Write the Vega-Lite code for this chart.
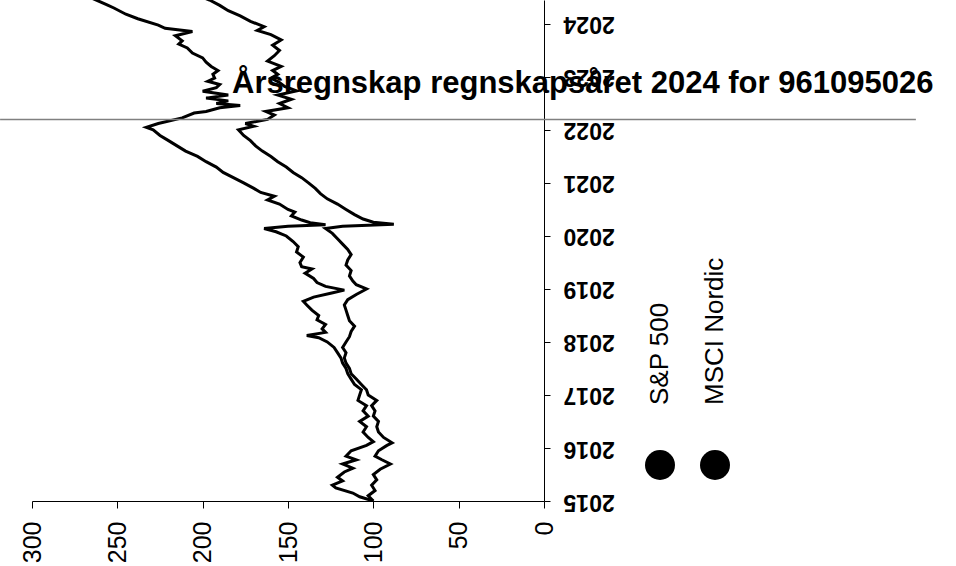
{
  "$schema": "https://vega.github.io/schema/vega-lite/v6.json",
  "width": 512,
  "height": 501,
  "autosize": {"type": "none"},
  "padding": {"left": 32, "top": 0, "right": 412, "bottom": 65},
  "background": "white",
  "title": {
    "text": "Årsregnskap regnskapsåret 2024 for 961095026",
    "font": "Liberation Sans",
    "fontSize": 31,
    "fontWeight": "bold",
    "color": "black",
    "anchor": "start",
    "frame": "group",
    "orient": "top",
    "offset": 0,
    "dx": 200,
    "dy": 124,
    "baseline": "alphabetic"
  },
  "config": {
    "view": {"stroke": null},
    "font": "Liberation Sans",
    "axis": {"domainColor": "black", "tickColor": "black", "labelColor": "black", "grid": false, "title": null, "labelFont": "Liberation Sans"}
  },
  "datasets": {
    "series": [
      {"series": "S&P 500", "date": "2015-01-01", "value": 100},
      {"series": "S&P 500", "date": "2015-01-30", "value": 108},
      {"series": "S&P 500", "date": "2015-02-25", "value": 112},
      {"series": "S&P 500", "date": "2015-04-01", "value": 122},
      {"series": "S&P 500", "date": "2015-04-20", "value": 124},
      {"series": "S&P 500", "date": "2015-05-19", "value": 118},
      {"series": "S&P 500", "date": "2015-06-14", "value": 121},
      {"series": "S&P 500", "date": "2015-07-20", "value": 117},
      {"series": "S&P 500", "date": "2015-08-15", "value": 112},
      {"series": "S&P 500", "date": "2015-09-13", "value": 118},
      {"series": "S&P 500", "date": "2015-10-12", "value": 110},
      {"series": "S&P 500", "date": "2015-11-06", "value": 116},
      {"series": "S&P 500", "date": "2015-12-13", "value": 113},
      {"series": "S&P 500", "date": "2016-01-19", "value": 104},
      {"series": "S&P 500", "date": "2016-02-14", "value": 100},
      {"series": "S&P 500", "date": "2016-03-14", "value": 103},
      {"series": "S&P 500", "date": "2016-04-20", "value": 106},
      {"series": "S&P 500", "date": "2016-05-27", "value": 104},
      {"series": "S&P 500", "date": "2016-07-02", "value": 108},
      {"series": "S&P 500", "date": "2016-08-08", "value": 103},
      {"series": "S&P 500", "date": "2016-09-13", "value": 106},
      {"series": "S&P 500", "date": "2016-10-19", "value": 104},
      {"series": "S&P 500", "date": "2016-11-24", "value": 109},
      {"series": "S&P 500", "date": "2017-01-01", "value": 108},
      {"series": "S&P 500", "date": "2017-02-06", "value": 107},
      {"series": "S&P 500", "date": "2017-03-14", "value": 111},
      {"series": "S&P 500", "date": "2017-04-20", "value": 113},
      {"series": "S&P 500", "date": "2017-05-27", "value": 115},
      {"series": "S&P 500", "date": "2017-07-02", "value": 116},
      {"series": "S&P 500", "date": "2017-08-08", "value": 118},
      {"series": "S&P 500", "date": "2017-09-13", "value": 119},
      {"series": "S&P 500", "date": "2017-10-19", "value": 121},
      {"series": "S&P 500", "date": "2017-11-24", "value": 123},
      {"series": "S&P 500", "date": "2018-01-01", "value": 127},
      {"series": "S&P 500", "date": "2018-01-30", "value": 132},
      {"series": "S&P 500", "date": "2018-02-14", "value": 139},
      {"series": "S&P 500", "date": "2018-03-08", "value": 128},
      {"series": "S&P 500", "date": "2018-04-01", "value": 130},
      {"series": "S&P 500", "date": "2018-05-01", "value": 128},
      {"series": "S&P 500", "date": "2018-06-03", "value": 133},
      {"series": "S&P 500", "date": "2018-07-02", "value": 132},
      {"series": "S&P 500", "date": "2018-08-08", "value": 136},
      {"series": "S&P 500", "date": "2018-09-13", "value": 139},
      {"series": "S&P 500", "date": "2018-10-08", "value": 141},
      {"series": "S&P 500", "date": "2018-11-06", "value": 135},
      {"series": "S&P 500", "date": "2018-12-02", "value": 125},
      {"series": "S&P 500", "date": "2018-12-24", "value": 117},
      {"series": "S&P 500", "date": "2019-01-19", "value": 128},
      {"series": "S&P 500", "date": "2019-02-14", "value": 133},
      {"series": "S&P 500", "date": "2019-03-14", "value": 135},
      {"series": "S&P 500", "date": "2019-04-20", "value": 140},
      {"series": "S&P 500", "date": "2019-05-19", "value": 136},
      {"series": "S&P 500", "date": "2019-06-03", "value": 142},
      {"series": "S&P 500", "date": "2019-07-02", "value": 143},
      {"series": "S&P 500", "date": "2019-08-08", "value": 141},
      {"series": "S&P 500", "date": "2019-09-13", "value": 145},
      {"series": "S&P 500", "date": "2019-10-19", "value": 144},
      {"series": "S&P 500", "date": "2019-11-24", "value": 147},
      {"series": "S&P 500", "date": "2020-01-01", "value": 151},
      {"series": "S&P 500", "date": "2020-01-30", "value": 157},
      {"series": "S&P 500", "date": "2020-02-21", "value": 164},
      {"series": "S&P 500", "date": "2020-03-08", "value": 150},
      {"series": "S&P 500", "date": "2020-03-18", "value": 128},
      {"series": "S&P 500", "date": "2020-04-01", "value": 137},
      {"series": "S&P 500", "date": "2020-04-20", "value": 142},
      {"series": "S&P 500", "date": "2020-05-19", "value": 148},
      {"series": "S&P 500", "date": "2020-06-14", "value": 146},
      {"series": "S&P 500", "date": "2020-07-02", "value": 150},
      {"series": "S&P 500", "date": "2020-08-08", "value": 155},
      {"series": "S&P 500", "date": "2020-09-06", "value": 162},
      {"series": "S&P 500", "date": "2020-10-01", "value": 158},
      {"series": "S&P 500", "date": "2020-10-27", "value": 166},
      {"series": "S&P 500", "date": "2020-11-24", "value": 170},
      {"series": "S&P 500", "date": "2021-01-01", "value": 176},
      {"series": "S&P 500", "date": "2021-02-06", "value": 182},
      {"series": "S&P 500", "date": "2021-03-14", "value": 188},
      {"series": "S&P 500", "date": "2021-04-20", "value": 192},
      {"series": "S&P 500", "date": "2021-05-27", "value": 198},
      {"series": "S&P 500", "date": "2021-07-02", "value": 203},
      {"series": "S&P 500", "date": "2021-08-08", "value": 210},
      {"series": "S&P 500", "date": "2021-09-13", "value": 215},
      {"series": "S&P 500", "date": "2021-10-19", "value": 220},
      {"series": "S&P 500", "date": "2021-11-24", "value": 225},
      {"series": "S&P 500", "date": "2022-01-01", "value": 229},
      {"series": "S&P 500", "date": "2022-01-19", "value": 233},
      {"series": "S&P 500", "date": "2022-02-14", "value": 226},
      {"series": "S&P 500", "date": "2022-03-25", "value": 212},
      {"series": "S&P 500", "date": "2022-04-27", "value": 205},
      {"series": "S&P 500", "date": "2022-05-08", "value": 198},
      {"series": "S&P 500", "date": "2022-06-03", "value": 190},
      {"series": "S&P 500", "date": "2022-06-18", "value": 178},
      {"series": "S&P 500", "date": "2022-07-02", "value": 192},
      {"series": "S&P 500", "date": "2022-07-20", "value": 185},
      {"series": "S&P 500", "date": "2022-08-08", "value": 198},
      {"series": "S&P 500", "date": "2022-08-30", "value": 185},
      {"series": "S&P 500", "date": "2022-09-24", "value": 200},
      {"series": "S&P 500", "date": "2022-10-19", "value": 192},
      {"series": "S&P 500", "date": "2022-11-10", "value": 190},
      {"series": "S&P 500", "date": "2022-12-02", "value": 197},
      {"series": "S&P 500", "date": "2022-12-24", "value": 193},
      {"series": "S&P 500", "date": "2023-01-19", "value": 194},
      {"series": "S&P 500", "date": "2023-02-14", "value": 191},
      {"series": "S&P 500", "date": "2023-03-14", "value": 195},
      {"series": "S&P 500", "date": "2023-04-13", "value": 198},
      {"series": "S&P 500", "date": "2023-05-12", "value": 200},
      {"series": "S&P 500", "date": "2023-06-14", "value": 206},
      {"series": "S&P 500", "date": "2023-07-20", "value": 209},
      {"series": "S&P 500", "date": "2023-08-15", "value": 214},
      {"series": "S&P 500", "date": "2023-09-06", "value": 212},
      {"series": "S&P 500", "date": "2023-10-12", "value": 216},
      {"series": "S&P 500", "date": "2023-11-10", "value": 206},
      {"series": "S&P 500", "date": "2023-12-02", "value": 222},
      {"series": "S&P 500", "date": "2023-12-24", "value": 226},
      {"series": "S&P 500", "date": "2024-02-06", "value": 238},
      {"series": "S&P 500", "date": "2024-03-08", "value": 245},
      {"series": "S&P 500", "date": "2024-04-20", "value": 252},
      {"series": "S&P 500", "date": "2024-05-12", "value": 256},
      {"series": "S&P 500", "date": "2024-07-02", "value": 266},
      {"series": "MSCI Nordic", "date": "2015-01-01", "value": 100},
      {"series": "MSCI Nordic", "date": "2015-02-06", "value": 103},
      {"series": "MSCI Nordic", "date": "2015-03-14", "value": 99},
      {"series": "MSCI Nordic", "date": "2015-04-20", "value": 101},
      {"series": "MSCI Nordic", "date": "2015-05-27", "value": 98},
      {"series": "MSCI Nordic", "date": "2015-07-02", "value": 100},
      {"series": "MSCI Nordic", "date": "2015-08-08", "value": 96},
      {"series": "MSCI Nordic", "date": "2015-09-13", "value": 90},
      {"series": "MSCI Nordic", "date": "2015-10-12", "value": 95},
      {"series": "MSCI Nordic", "date": "2015-11-06", "value": 99},
      {"series": "MSCI Nordic", "date": "2015-12-13", "value": 97},
      {"series": "MSCI Nordic", "date": "2016-01-19", "value": 92},
      {"series": "MSCI Nordic", "date": "2016-02-06", "value": 89},
      {"series": "MSCI Nordic", "date": "2016-03-14", "value": 94},
      {"series": "MSCI Nordic", "date": "2016-04-20", "value": 97},
      {"series": "MSCI Nordic", "date": "2016-05-27", "value": 98},
      {"series": "MSCI Nordic", "date": "2016-07-02", "value": 97},
      {"series": "MSCI Nordic", "date": "2016-08-08", "value": 100},
      {"series": "MSCI Nordic", "date": "2016-09-13", "value": 99},
      {"series": "MSCI Nordic", "date": "2016-10-19", "value": 101},
      {"series": "MSCI Nordic", "date": "2016-11-24", "value": 98},
      {"series": "MSCI Nordic", "date": "2017-01-01", "value": 103},
      {"series": "MSCI Nordic", "date": "2017-02-06", "value": 104},
      {"series": "MSCI Nordic", "date": "2017-03-14", "value": 107},
      {"series": "MSCI Nordic", "date": "2017-04-20", "value": 110},
      {"series": "MSCI Nordic", "date": "2017-05-27", "value": 113},
      {"series": "MSCI Nordic", "date": "2017-07-02", "value": 114},
      {"series": "MSCI Nordic", "date": "2017-08-08", "value": 116},
      {"series": "MSCI Nordic", "date": "2017-09-13", "value": 117},
      {"series": "MSCI Nordic", "date": "2017-10-19", "value": 116},
      {"series": "MSCI Nordic", "date": "2017-11-24", "value": 118},
      {"series": "MSCI Nordic", "date": "2018-01-01", "value": 116},
      {"series": "MSCI Nordic", "date": "2018-02-06", "value": 114},
      {"series": "MSCI Nordic", "date": "2018-03-14", "value": 113},
      {"series": "MSCI Nordic", "date": "2018-04-20", "value": 111},
      {"series": "MSCI Nordic", "date": "2018-05-27", "value": 114},
      {"series": "MSCI Nordic", "date": "2018-07-02", "value": 115},
      {"series": "MSCI Nordic", "date": "2018-08-08", "value": 116},
      {"series": "MSCI Nordic", "date": "2018-09-13", "value": 117},
      {"series": "MSCI Nordic", "date": "2018-10-19", "value": 115},
      {"series": "MSCI Nordic", "date": "2018-11-24", "value": 110},
      {"series": "MSCI Nordic", "date": "2019-01-01", "value": 104},
      {"series": "MSCI Nordic", "date": "2019-01-30", "value": 110},
      {"series": "MSCI Nordic", "date": "2019-02-25", "value": 112},
      {"series": "MSCI Nordic", "date": "2019-04-01", "value": 114},
      {"series": "MSCI Nordic", "date": "2019-05-08", "value": 113},
      {"series": "MSCI Nordic", "date": "2019-06-14", "value": 116},
      {"series": "MSCI Nordic", "date": "2019-07-20", "value": 115},
      {"series": "MSCI Nordic", "date": "2019-08-26", "value": 113},
      {"series": "MSCI Nordic", "date": "2019-10-01", "value": 115},
      {"series": "MSCI Nordic", "date": "2019-11-06", "value": 118},
      {"series": "MSCI Nordic", "date": "2019-12-13", "value": 121},
      {"series": "MSCI Nordic", "date": "2020-01-19", "value": 124},
      {"series": "MSCI Nordic", "date": "2020-02-21", "value": 128},
      {"series": "MSCI Nordic", "date": "2020-03-08", "value": 118},
      {"series": "MSCI Nordic", "date": "2020-03-22", "value": 88},
      {"series": "MSCI Nordic", "date": "2020-04-05", "value": 100},
      {"series": "MSCI Nordic", "date": "2020-04-27", "value": 106},
      {"series": "MSCI Nordic", "date": "2020-05-27", "value": 111},
      {"series": "MSCI Nordic", "date": "2020-07-02", "value": 116},
      {"series": "MSCI Nordic", "date": "2020-08-08", "value": 121},
      {"series": "MSCI Nordic", "date": "2020-09-13", "value": 127},
      {"series": "MSCI Nordic", "date": "2020-10-19", "value": 131},
      {"series": "MSCI Nordic", "date": "2020-11-24", "value": 134},
      {"series": "MSCI Nordic", "date": "2021-01-01", "value": 138},
      {"series": "MSCI Nordic", "date": "2021-02-06", "value": 142},
      {"series": "MSCI Nordic", "date": "2021-03-14", "value": 147},
      {"series": "MSCI Nordic", "date": "2021-04-20", "value": 151},
      {"series": "MSCI Nordic", "date": "2021-05-27", "value": 156},
      {"series": "MSCI Nordic", "date": "2021-07-02", "value": 160},
      {"series": "MSCI Nordic", "date": "2021-08-08", "value": 165},
      {"series": "MSCI Nordic", "date": "2021-09-13", "value": 169},
      {"series": "MSCI Nordic", "date": "2021-10-19", "value": 172},
      {"series": "MSCI Nordic", "date": "2021-11-24", "value": 176},
      {"series": "MSCI Nordic", "date": "2022-01-01", "value": 179},
      {"series": "MSCI Nordic", "date": "2022-01-26", "value": 170},
      {"series": "MSCI Nordic", "date": "2022-02-14", "value": 175},
      {"series": "MSCI Nordic", "date": "2022-03-14", "value": 162},
      {"series": "MSCI Nordic", "date": "2022-04-13", "value": 158},
      {"series": "MSCI Nordic", "date": "2022-05-08", "value": 163},
      {"series": "MSCI Nordic", "date": "2022-06-03", "value": 150},
      {"series": "MSCI Nordic", "date": "2022-07-02", "value": 155},
      {"series": "MSCI Nordic", "date": "2022-07-31", "value": 148},
      {"series": "MSCI Nordic", "date": "2022-08-30", "value": 156},
      {"series": "MSCI Nordic", "date": "2022-09-27", "value": 145},
      {"series": "MSCI Nordic", "date": "2022-10-27", "value": 152},
      {"series": "MSCI Nordic", "date": "2022-11-24", "value": 155},
      {"series": "MSCI Nordic", "date": "2022-12-24", "value": 160},
      {"series": "MSCI Nordic", "date": "2023-01-19", "value": 156},
      {"series": "MSCI Nordic", "date": "2023-02-14", "value": 159},
      {"series": "MSCI Nordic", "date": "2023-03-14", "value": 154},
      {"series": "MSCI Nordic", "date": "2023-04-20", "value": 162},
      {"series": "MSCI Nordic", "date": "2023-05-27", "value": 158},
      {"series": "MSCI Nordic", "date": "2023-07-02", "value": 155},
      {"series": "MSCI Nordic", "date": "2023-08-08", "value": 159},
      {"series": "MSCI Nordic", "date": "2023-09-13", "value": 154},
      {"series": "MSCI Nordic", "date": "2023-10-19", "value": 160},
      {"series": "MSCI Nordic", "date": "2023-11-17", "value": 168},
      {"series": "MSCI Nordic", "date": "2023-12-13", "value": 164},
      {"series": "MSCI Nordic", "date": "2024-01-19", "value": 172},
      {"series": "MSCI Nordic", "date": "2024-02-25", "value": 178},
      {"series": "MSCI Nordic", "date": "2024-04-01", "value": 185},
      {"series": "MSCI Nordic", "date": "2024-05-08", "value": 190},
      {"series": "MSCI Nordic", "date": "2024-06-14", "value": 196},
      {"series": "MSCI Nordic", "date": "2024-07-02", "value": 200}
    ]
  },
  "layer": [
    {
      "data": {"name": "series"},
      "mark": {"type": "line", "strokeWidth": 3, "clip": true, "strokeJoin": "miter"},
      "encoding": {
        "y": {
          "field": "date",
          "type": "temporal",
          "scale": {"domain": ["2015-01-01", "2024-06-14"]},
          "axis": {
            "orient": "right",
            "format": "%Y",
            "tickCount": {"interval": "year", "step": 1},
            "labelAngle": 180,
            "labelAlign": "right",
            "labelBaseline": "middle",
            "labelFontSize": 23,
            "labelFontWeight": "bold",
            "labelPadding": 13,
            "tickSize": 6,
            "labelOverlap": false,
            "labelFlush": false,
            "labelBound": false
          }
        },
        "x": {
          "field": "value",
          "type": "quantitative",
          "scale": {"domain": [0, 300], "reverse": true, "nice": false, "zero": false},
          "axis": {
            "values": [0, 50, 100, 150, 200, 250, 300],
            "labelAngle": -90,
            "labelAlign": "right",
            "labelBaseline": "middle",
            "labelFontSize": 25,
            "labelPadding": 13,
            "tickSize": 7,
            "labelOverlap": false,
            "labelFlush": false,
            "labelBound": false
          }
        },
        "color": {
          "field": "series",
          "type": "nominal",
          "scale": {"domain": ["S&P 500", "MSCI Nordic"], "range": ["black", "black"]},
          "legend": {
            "orient": "none",
            "legendX": 613,
            "legendY": 450,
            "direction": "horizontal",
            "title": null,
            "padding": 0,
            "symbolType": "circle",
            "symbolSize": 900,
            "symbolFillColor": "black",
            "symbolStrokeWidth": 0,
            "symbolOpacity": 1,
            "labelFont": "Liberation Sans",
            "labelFontSize": 26,
            "labelColor": "black",
            "labelLimit": 400,
            "labelOffset": 4,
            "columnPadding": 25,
            "encode": {
              "symbols": {"update": {"fill": {"value": "black"}, "fillOpacity": {"value": 1}, "strokeWidth": {"value": 0}}},
              "labels": {"update": {"angle": {"value": -90}, "align": {"value": "left"}, "baseline": {"value": "middle"}, "dx": {"value": 60}, "dy": {"value": -19}}}
            }
          }
        },
        "order": {"field": "date", "type": "temporal"}
      }
    },
    {
      "data": {"values": [{}]},
      "mark": {"type": "rule", "color": "#808080", "strokeWidth": 1.5, "clip": false},
      "encoding": {
        "y": {"datum": {"year": 2022, "month": 3, "date": 14}, "type": "temporal"},
        "x": {"datum": 318.7},
        "x2": {"datum": -217.9}
      }
    }
  ]
}
